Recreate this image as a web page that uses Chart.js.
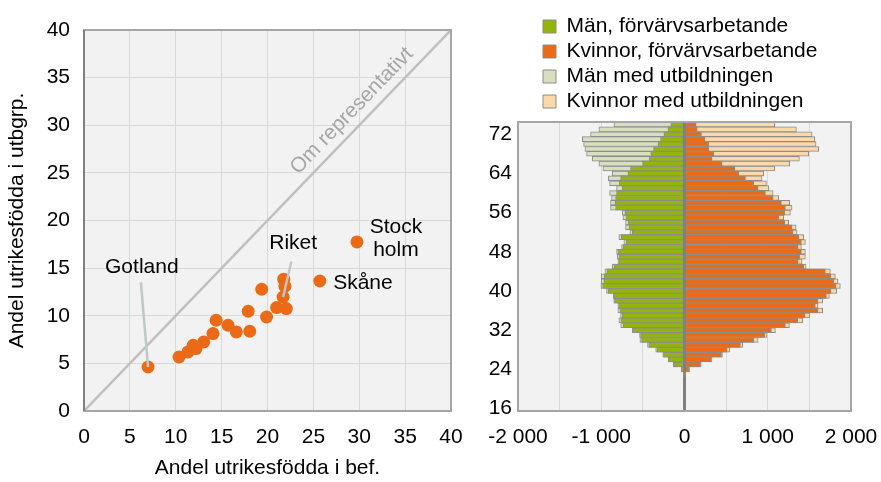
<!DOCTYPE html>
<html>
<head>
<meta charset="utf-8">
<script src="https://cdn.jsdelivr.net/npm/chart.js@4.4.0/dist/chart.umd.min.js"></script>
<style>
	html, body { margin: 0; padding: 0; background: #fff; }
	#wrap { position: relative; width: 881px; height: 482px; overflow: hidden; }
	#left { position: absolute; left: 0; top: 0; }
	#right { position: absolute; left: 470px; top: 0; }
</style>
</head>
<body>
<div id="wrap">
	<canvas id="left" width="470" height="482"></canvas>
	<canvas id="right" width="411" height="482"></canvas>
</div>
<script>
// --- left panel: share foreign born, population vs. education group ---
const befShare = [6.98, 10.36, 11.34, 12.2, 11.9, 13.05, 14.06, 14.4, 15.7, 16.6, 18.06,
	17.9, 19.9, 19.37, 21.77, 21.9, 21.7, 21.0, 22.05, 25.7, 29.75];
const utbShare = [4.62, 5.67, 6.2, 6.55, 6.9, 7.25, 8.13, 9.53, 9.0, 8.3, 8.37,
	10.47, 9.87, 12.78, 13.84, 13.1, 11.97, 10.86, 10.75, 13.65, 17.75];
const diagonal = [0, 40];
const noteText = ['Gotland', 'Riket', 'Stock', 'holm', 'Skåne'];
const noteX = [6.3, 22.8, 34.0, 34.0, 30.4];
const noteY = [15.1, 17.6, 19.3, 16.9, 13.4];
// leader lines: label end -> point
const leaderFrom = [[6.2, 13.5], [22.6, 15.7]];
const leaderTo = [[6.98, 4.62], [21.7, 11.97]];

// --- right panel: age pyramid ---
const ages = [];
for (let a = 16; a <= 74; a++) ages.push(a);
const menWork = [0, 0, 0, 0, 0, 0, 0, -12, -36, -128, -188, -252, -330, -428, -516, -528, -620,
	-736, -764, -748, -776, -788, -840, -848, -916, -984, -968, -964, -932, -848, -788, -788,
	-796, -736, -700, -760, -628, -668, -676, -704, -716, -828, -836, -828, -816, -748, -784,
	-768, -680, -648, -504, -424, -404, -372, -318, -288, -248, -198, -164];
const womenWork = [0, 0, 0, 0, 0, 0, 0, 12, 56, 192, 320, 444, 512, 672, 832, 964, 1044,
	1212, 1360, 1444, 1604, 1572, 1604, 1704, 1760, 1816, 1792, 1760, 1692, 1432, 1364, 1384,
	1404, 1364, 1404, 1372, 1304, 1292, 1204, 1132, 1204, 1212, 1164, 1064, 972, 884, 832,
	732, 652, 604, 452, 332, 352, 292, 292, 244, 204, 152, 140];
const menEdu = [0, 0, 0, 0, 0, 0, 0, -16, -40, -136, -196, -260, -346, -444, -536, -540, -628,
	-766, -788, -768, -800, -800, -850, -856, -936, -1004, -1000, -1000, -956, -868, -800, -808,
	-816, -756, -728, -788, -656, -708, -708, -740, -748, -888, -888, -876, -900, -816, -900,
	-916, -868, -980, -1028, -1108, -1176, -1196, -1212, -1228, -1128, -1028, -848];
const womenEdu = [0, 0, 0, 0, 0, 0, 0, 16, 60, 200, 330, 456, 544, 700, 884, 992, 1092,
	1260, 1420, 1504, 1660, 1604, 1660, 1740, 1828, 1872, 1844, 1812, 1752, 1460, 1412, 1452,
	1452, 1404, 1452, 1432, 1352, 1340, 1252, 1192, 1272, 1292, 1264, 1132, 1064, 1012, 984,
	932, 952, 1084, 1264, 1380, 1492, 1612, 1580, 1564, 1532, 1344, 1084];

const ORANGE = '#ea6a17';
const GREEN = '#93b50a';
const EDGE = '#8c8c8c';

Chart.defaults.font.family = "'Liberation Sans', Arial, sans-serif";
Chart.defaults.font.size = 21;
Chart.defaults.color = '#000';

// grey plot area + frame
const plotFrame = {
	id: 'plotFrame',
	beforeDraw(chart) {
		const { ctx, chartArea: a } = chart;
		ctx.save();
		ctx.fillStyle = '#f2f2f2';
		ctx.fillRect(a.left, a.top, a.width, a.height);
		ctx.restore();
	},
	afterDraw(chart) {
		const { ctx, chartArea: a } = chart;
		ctx.save();
		ctx.strokeStyle = '#a6a6a6';
		ctx.lineWidth = 2;
		ctx.strokeRect(a.left, a.top, a.width, a.height);
		if (chart.options.darkLeft) {
			ctx.strokeStyle = '#808080';
			ctx.beginPath();
			ctx.moveTo(a.left, a.top);
			ctx.lineTo(a.left, a.bottom);
			ctx.stroke();
		}
		ctx.restore();
	}
};

const notes = {
	id: 'notes',
	afterDatasetsDraw(chart) {
		const { ctx, scales: { x, y } } = chart;
		ctx.save();
		ctx.strokeStyle = '#bfc8c8';
		ctx.lineWidth = 2.5;
		leaderFrom.forEach((p, i) => {
			ctx.beginPath();
			ctx.moveTo(x.getPixelForValue(p[0]), y.getPixelForValue(p[1]));
			ctx.lineTo(x.getPixelForValue(leaderTo[i][0]), y.getPixelForValue(leaderTo[i][1]));
			ctx.stroke();
		});
		ctx.font = "21px 'Liberation Sans', Arial, sans-serif";
		ctx.textAlign = 'center';
		ctx.textBaseline = 'middle';
		ctx.fillStyle = '#000';
		noteText.forEach((t, i) => {
			ctx.fillText(t, x.getPixelForValue(noteX[i]), y.getPixelForValue(noteY[i]));
		});
		// text along the diagonal
		const dx = x.getPixelForValue(40) - x.getPixelForValue(0);
		const dy = y.getPixelForValue(40) - y.getPixelForValue(0);
		ctx.translate(x.getPixelForValue(29.2), y.getPixelForValue(31.5));
		ctx.rotate(Math.atan2(dy, dx));
		ctx.fillStyle = '#a6a6a6';
		ctx.fillText('Om representativt', 0, 0);
		ctx.restore();
	}
};

// invisible tick marks keep the labels off the axis without eating side padding
const xGap = { drawTicks: true, tickLength: 14, tickColor: 'rgba(0,0,0,0)' };

new Chart(document.getElementById('left'), {
	type: 'scatter',
	data: {
		datasets: [{
			data: befShare.map((v, i) => ({ x: v, y: utbShare[i] })),
			backgroundColor: ORANGE,
			borderWidth: 0,
			pointRadius: 6.5,
			pointHoverRadius: 6.5
		}, {
			data: diagonal.map(v => ({ x: v, y: v })),
			showLine: true,
			borderColor: '#bfbfbf',
			borderWidth: 2.5,
			pointRadius: 0
		}]
	},
	options: {
		responsive: false,
		animation: false,
		darkLeft: true,
		layout: { padding: { top: 30, right: 19, left: 0, bottom: 0 } },
		plugins: { legend: { display: false }, tooltip: { enabled: false } },
		scales: {
			x: {
				min: 0, max: 40,
				ticks: { stepSize: 5, padding: 0, maxRotation: 0 },
				grid: Object.assign({ color: '#d9d9d9' }, xGap),
				border: { display: false },
				title: { display: true, text: 'Andel utrikesfödda i bef.', padding: { top: 0, bottom: 1 } },
				afterFit: (s) => { s.height = 71; }
			},
			y: {
				min: 0, max: 40,
				ticks: { stepSize: 5, padding: 0 },
				grid: { color: '#d9d9d9', drawTicks: true, tickLength: 14, tickColor: 'rgba(0,0,0,0)' },
				border: { display: false },
				title: { display: true, text: 'Andel utrikesfödda i utbgrp.', padding: { top: 5, bottom: 0 } },
				afterFit: (s) => { s.width = 84; }
			}
		}
	},
	plugins: [plotFrame, notes]
});

// move the legend in over the plot like in the original
const legendShift = {
	id: 'legendShift',
	afterLayout(chart) {
		chart.legend.left += 21;
		chart.legend.right += 21;
	}
};

const fmt = (v) => {
	if (v === 0) return '0';
	const s = String(Math.abs(v)).replace(/\B(?=(\d{3})+(?!\d))/g, ' ');
	return (v < 0 ? '-' : '') + s;
};

new Chart(document.getElementById('right'), {
	type: 'bar',
	data: {
		labels: ages,
		datasets: [
			{ label: 'Män, förvärvsarbetande', data: menWork, backgroundColor: GREEN },
			{ label: 'Kvinnor, förvärvsarbetande', data: womenWork, backgroundColor: ORANGE },
			{ label: 'Män med utbildningen', data: menEdu, backgroundColor: '#d7dfbf' },
			{ label: 'Kvinnor med utbildningen', data: womenEdu, backgroundColor: '#fcd9a9' }
		]
	},
	options: {
		indexAxis: 'y',
		responsive: false,
		animation: false,
		datasets: {
			bar: { grouped: false, barPercentage: 1, categoryPercentage: 1, borderColor: EDGE, borderWidth: 1 }
		},
		layout: { padding: { top: 12, right: 30, left: 0, bottom: 0 } },
		plugins: {
			legend: {
				position: 'top',
				fullSize: false,
				align: 'start',
				labels: { boxWidth: 13, boxHeight: 13, padding: 4, color: '#000' }
			},
			tooltip: { enabled: false }
		},
		scales: {
			x: {
				min: -2000, max: 2000,
				ticks: {
					stepSize: 500, autoSkip: false, maxRotation: 0, minRotation: 0, padding: 0,
					callback: (v) => (v % 1000 === 0 ? fmt(v) : '')
				},
				grid: Object.assign({
					color: (c) => (c.tick && c.tick.value === 0 ? '#808080' : '#d9d9d9'),
					lineWidth: (c) => (c.tick && c.tick.value === 0 ? 3 : 1)
				}, xGap),
				border: { display: false },
				afterFit: (s) => { s.height = 71; }
			},
			y: {
				reverse: true,
				ticks: {
					autoSkip: false, padding: 6,
					callback: (v, i) => ((ages[i] - 16) % 8 === 0 ? String(ages[i]) : '')
				},
				grid: { display: false, drawTicks: false },
				border: { display: false },
				afterFit: (s) => { s.width = 48; }
			}
		}
	},
	plugins: [plotFrame, legendShift]
});
</script>
</body>
</html>
